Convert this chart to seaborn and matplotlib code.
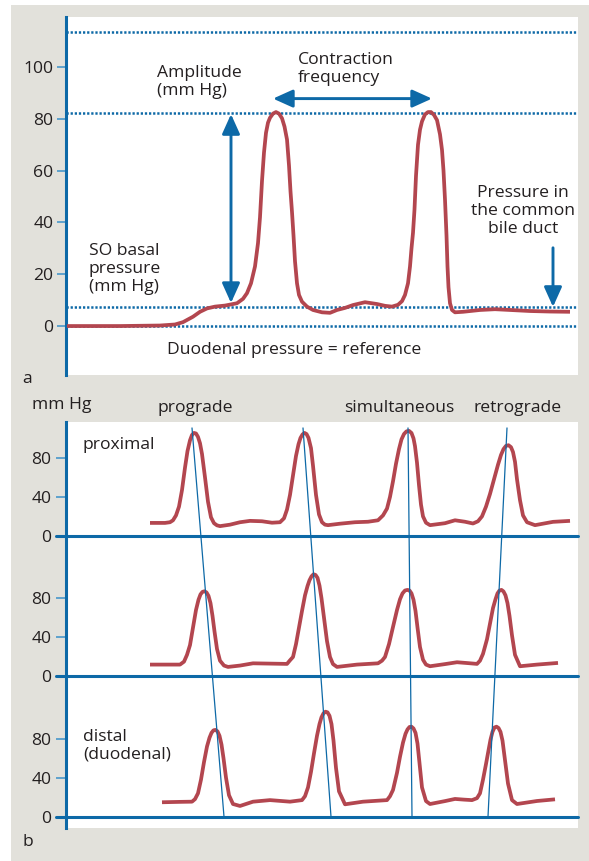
import matplotlib
matplotlib.use("Agg")
import matplotlib.pyplot as plt
import seaborn as sns
from matplotlib.patches import Rectangle

# ---- panel a: single manometry trace (time in arbitrary units, mm Hg) ----
a_time = [67, 120, 160, 175, 183, 193, 200, 207, 215, 225, 237, 243, 247, 251, 255, 258,
          260, 262, 264, 266, 268, 270, 273, 276, 279, 282, 284.5, 287, 289, 290.5, 292,
          293.5, 295, 297, 299, 302, 307, 313, 322, 330, 337, 345, 353, 365, 377, 385,
          392, 398, 402, 405, 408, 410, 411.5, 413, 414.5, 416, 418, 420, 422, 425, 428,
          431, 434, 437, 440, 442, 443.5, 445, 446.5, 447.5, 448.5, 450, 452, 455, 463,
          480, 495, 510, 530, 550, 570]
a_pressure = [0, 0, 0.2, 0.6, 1.5, 3.6, 5.5, 6.8, 7.5, 7.9, 8.8, 10.5, 12.7, 16.5, 23, 32,
              42, 56, 67, 74.6, 78.5, 80.4, 82, 82.6, 82, 80.2, 77, 72, 62, 52, 44,
              35, 25, 16.5, 12, 9.4, 7.5, 6.2, 5.3, 5.1, 6.2, 7, 8.1, 9.2, 8.5, 7.8,
              7.5, 8.2, 9.6, 12, 16.5, 23, 30, 36, 45, 58, 70, 75.8, 79, 81.7, 82.6,
              82.6, 81.5, 79.5, 74, 68, 60, 48.8, 35, 23, 15, 8.8, 6.2, 5.3, 5.5,
              6.2, 6.5, 6.2, 5.8, 5.6, 5.5]
a_ticks = [0, 20, 40, 60, 80, 100]
a_levels = [0, 7.5, 82.4, 113.4]

# ---- panel b: three recording sites ----
prox_time = [150, 165, 170, 173, 176, 179, 182, 185, 187.5, 190, 192, 194, 196, 198, 200, 202,
             205, 208, 211, 214, 217, 220, 230, 240, 250, 262, 272, 280, 284, 287, 290, 293,
             296, 298.5, 300.5, 302.5, 304.5, 306.5, 308.5, 311, 313, 316, 319, 322, 325, 328,
             340, 355, 368, 378, 383, 387, 390, 393, 396, 399, 401.5, 404, 406.5, 409, 411.5,
             413.5, 415, 417, 419, 421, 423, 426, 430, 445, 455, 465, 473, 478, 482, 486, 490,
             494, 498, 501, 503.5, 506, 508.5, 511, 513, 515, 517, 520, 523, 527, 535, 553, 570]
prox_pres = [13.3, 13.3, 14, 16, 21, 30, 47, 70, 87, 98, 103.5, 105.6, 105, 101.5, 95, 84,
             60, 35, 19, 13, 10.8, 10, 11.5, 14, 15.4, 15, 13.5, 14, 18, 27, 42, 62,
             82, 94, 100.5, 104, 105.6, 104.5, 100.5, 90, 72, 42, 22, 14, 11.5, 11,
             12.5, 14, 14.5, 16, 21, 28, 40, 56, 74, 89, 99, 104.5, 107.2, 107.7, 105.5,
             100, 92, 75, 52, 32, 20, 13.5, 11, 13, 16, 14.5, 12.7, 15, 20, 30, 43,
             58, 73, 83, 89, 92.3, 93, 91, 86, 76, 58, 36.6, 21, 14, 11, 14.4, 15.4]

mid_time = [150, 180, 184, 187, 190, 193, 196, 198.5, 200.5, 202.5, 204.5, 206.5, 208.5, 210.5,
            212.5, 214.5, 217, 220, 224, 228, 240, 253, 270, 287, 290, 293, 296, 299, 302, 305,
            307.5, 309.5, 311.5, 313.5, 315.5, 317.5, 319.5, 321.5, 324, 327, 330, 333, 337,
            357, 378, 382, 385, 389, 393, 397, 400, 402.5, 405, 407.5, 409.5, 411.5, 413.5,
            415.5, 417.5, 420, 423, 426, 430, 445, 457, 468, 477, 480, 483, 487, 490, 493,
            495.5, 497.5, 499.5, 501.5, 503.5, 505.5, 507.5, 509.5, 512, 515, 520, 537, 558]
mid_pres = [12, 12, 15, 22, 32, 50, 68, 78.5, 84, 86.6, 87.2, 86, 82.5, 75,
            62, 46, 28, 16, 11, 9.6, 11, 13.3, 13, 12.7, 16.4, 19.8, 33, 50, 67, 83,
            92.5, 98.5, 102.5, 104.6, 104, 101, 93, 80, 60, 36, 19.8, 12.5, 9.6,
            12, 13.3, 16, 19.8, 33, 50.6, 68, 79, 85, 88, 88.6, 88, 85, 78.5,
            67, 50, 30, 17, 12, 10.3, 12.5, 14.4, 13.5, 12.7, 16, 23, 38, 54, 70,
            79, 85, 88, 88.6, 87, 83, 75, 62, 42, 22, 10.3, 12, 13.7]

dist_time = [162, 180, 192, 195, 198, 201, 204, 207, 209.5, 211.5, 213.5, 215.5, 217.5, 219.5,
             221.5, 223.5, 226, 229, 233, 240, 253, 270, 290, 302, 305, 308, 311, 314, 317,
             319.5, 321.5, 323.5, 325.5, 327.5, 329.5, 331.5, 333.5, 336, 339, 345, 363, 387,
             390, 393, 397, 400, 403, 405.5, 407.5, 409.5, 411.5, 413.5, 415.5, 417.5, 419.5,
             422, 426, 430, 445, 455, 464, 472, 477, 480, 483, 486, 488.5, 490.5, 492.5, 494.5,
             496.5, 498.5, 500.5, 502.5, 505, 508, 512, 517, 537, 555]
dist_pres = [14.8, 15.2, 15.4, 18, 24, 38, 56, 72, 81, 86, 88.6, 89, 87.5, 83,
             74, 60, 40, 22, 13, 11, 15.4, 17, 15.4, 17, 21, 30, 46, 65, 83,
             95, 102, 106, 107.7, 107, 103.5, 95, 78, 50, 26, 12.7, 15.4, 17,
             21, 27.4, 45, 61.5, 76, 85, 89.5, 92, 92.3, 90.5, 86, 75, 55,
             30, 16, 13, 16, 18.2, 17.5, 17, 19, 24, 38, 54, 68, 79, 87, 91.5,
             92.3, 91, 87, 78, 58, 34, 17, 13, 16.1, 17.8]

b_ticks = [0, 40, 80]
wave_top = [192, 303, 408, 507]
wave_bottom = [224, 331, 412, 488]
wave_names = ["prograde", "simultaneous", "retrograde"]
wave_name_x = [195, 399, 518]

# ---- style ----
sns.set_style("white")
plt.rcParams["font.family"] = ["Open Sans", "DejaVu Sans"]
fs = 12.6
plt.rcParams["font.size"] = fs

red = "#b3464f"
blue = "#0d69a7"
tick_blue = "#5ea2cd"
ink = "#231f20"
W, H = 589, 861

fig = plt.figure(figsize=(W / 100, H / 100), dpi=100)
fig.patch.set_facecolor("white")
fig.patches.append(Rectangle((11 / W, 0), 1 - 11 / W, 1 - 5 / H, transform=fig.transFigure,
                             facecolor="#e2e1db", edgecolor="none", zorder=-10))

trace = dict(color=red, lw=2.7, solid_joinstyle="round", solid_capstyle="butt", zorder=3)


def frame(ax):
    for s in ["top", "right", "bottom"]:
        ax.spines[s].set_visible(False)
    ax.spines["left"].set_color(blue)
    ax.spines["left"].set_linewidth(2.2)
    ax.set_facecolor("white")
    ax.set_xticks([])
    ax.set_xlabel("")
    ax.set_ylabel("")


# ---- panel a ----
ax = fig.add_axes([66 / W, 1 - 375 / H, 512 / W, 358 / H])
for lv in a_levels:
    ax.axhline(lv, color=blue, lw=1.8, ls=(0, (0.9, 0.75)), zorder=1)
sns.lineplot(x=a_time, y=a_pressure, ax=ax, **trace)
ax.set_xlim(66, 578)
ax.set_ylim(-18.9, 119.3)
frame(ax)
ax.set_yticks(a_ticks)
ax.tick_params(axis="y", length=6.5, width=1.4, color=tick_blue, pad=2.5,
               labelsize=fs, labelcolor=ink, left=True)

arrow = dict(arrowstyle="<|-|>,head_length=0.6,head_width=0.27", color=blue, lw=2.1,
             shrinkA=0, shrinkB=0, mutation_scale=20)
ax.annotate("", xy=(231, 81.8), xytext=(231, 8.9), arrowprops=arrow)
ax.annotate("", xy=(273, 87.8), xytext=(432, 87.8), arrowprops=arrow)
ax.annotate("", xy=(553, 7.4), xytext=(553, 30.2),
            arrowprops=dict(arrow, arrowstyle="-|>,head_length=0.6,head_width=0.27"))

ax.text(157, 94.2, "Amplitude\n(mm Hg)", ha="left", va="center", color=ink, linespacing=1.15)
ax.text(298, 99.3, "Contraction\nfrequency", ha="left", va="center", color=ink, linespacing=1.15)
ax.text(523, 44.5, "Pressure in\nthe common\nbile duct", ha="center", va="center",
        multialignment="center", color=ink, linespacing=1.15)
ax.text(89, 22, "SO basal\npressure\n(mm Hg)", ha="left", va="center", color=ink, linespacing=1.15)
ax.text(294, -9.3, "Duodenal pressure = reference", ha="center", va="center", color=ink)
fig.text(22 / W, 1 - 379 / H, "a", ha="left", va="center", color=ink, fontsize=fs)

# ---- panel b ----
bx = fig.add_axes([66 / W, 1 - 828 / H, 512 / W, 406 / H])
offsets = [288, 144, 0]
rows = [(prox_time, prox_pres), (mid_time, mid_pres), (dist_time, dist_pres)]
for off, (t, p) in zip(offsets, rows):
    bx.axhline(off, xmin=-10 / 512, xmax=1, color=blue, lw=2.2, clip_on=False, zorder=2)
    sns.lineplot(x=t, y=[v + off for v in p], ax=bx, **trace)

for xt, xb in zip(wave_top, wave_bottom):
    sns.lineplot(x=[xt, xb], y=[398.7, 0], ax=bx, color=blue, lw=0.9, zorder=4)

bx.set_xlim(66, 578)
bx.set_ylim(-11.6, 404.8)
frame(bx)
bx.set_yticks([off + t for off in offsets for t in b_ticks])
bx.set_yticklabels([str(t) for off in offsets for t in b_ticks])
bx.tick_params(axis="y", length=7, width=1.4, color=tick_blue, pad=3.5,
               labelsize=fs, labelcolor=ink, left=True)

bx.text(83, 381.2, "proximal", ha="left", va="center", color=ink)
bx.text(83, 72.5, "distal\n(duodenal)", ha="left", va="center", color=ink, linespacing=1.15)
for name, xn in zip(wave_names, wave_name_x):
    bx.text(xn, 419.2, name, ha="center", va="center", color=ink)
fig.text(32 / W, 1 - 405 / H, "mm Hg", ha="left", va="center", color=ink, fontsize=fs)
fig.text(22 / W, 1 - 842 / H, "b", ha="left", va="center", color=ink, fontsize=fs)

fig.savefig("out.png", dpi=100, facecolor=fig.get_facecolor())
